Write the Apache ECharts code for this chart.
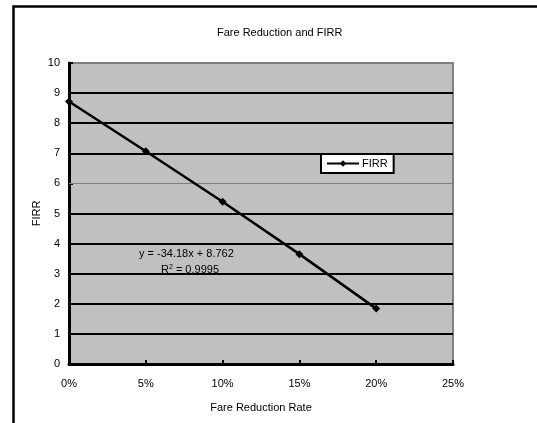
<!DOCTYPE html>
<html>
<head>
<meta charset="utf-8">
<script src="https://cdn.jsdelivr.net/npm/echarts@6/dist/echarts.min.js"></script>
<style>html,body{margin:0;padding:0;background:#fff;}#c{width:537px;height:423px;}</style>
</head>
<body>
<div id="c"></div>
<script>
const titleText = 'Fare Reduction and FIRR';
const xTitle = 'Fare Reduction Rate';
const yTitle = 'FIRR';
const seriesName = 'FIRR';
const rates = [0, 0.05, 0.10, 0.15, 0.20];
const firr = [8.72, 7.07, 5.39, 3.65, 1.84];
const trendEq = 'y = -34.18x + 8.762';
const r2Value = '0.9995';

const FONT = '"Liberation Sans", Arial, sans-serif';
const chart = echarts.init(document.getElementById('c'), null, {renderer: 'canvas'});
const gridColors = ['#000','#000','#000','#000','#000','#000','rgba(0,0,0,0)','#000','#000','#000','rgba(0,0,0,0)'];

chart.setOption({
  animation: false,
  backgroundColor: '#fff',
  textStyle: {fontFamily: FONT, color: '#000'},
  title: {
    text: titleText, left: 212, top: 22,
    textStyle: {fontFamily: FONT, fontSize: 11, fontWeight: 'normal', color: '#000'}
  },
  legend: {
    left: 321, top: 154,
    backgroundColor: '#fff', borderColor: '#000', borderWidth: 2,
    padding: [4, 6, 4, 5],
    itemWidth: 32, itemHeight: 8, itemGap: 4,
    textStyle: {fontFamily: FONT, fontSize: 11, color: '#000', padding: [0,0,0,-2]},
    data: [seriesName]
  },
  grid: {
    left: 69, right: 84, top: 63, bottom: 59,
    show: true, backgroundColor: '#c0c0c0', borderColor: '#808080', borderWidth: 2
  },
  xAxis: {
    type: 'value', min: 0, max: 0.25, interval: 0.05,
    name: xTitle, nameLocation: 'middle', nameGap: 38, nameMoveOverlap: false,
    nameTextStyle: {fontFamily: FONT, fontSize: 11, color: '#000'},
    axisLine: {show: true, lineStyle: {color: '#000', width: 3}},
    axisTick: {show: true, inside: true, length: 4, lineStyle: {color: '#000', width: 2}},
    axisLabel: {fontFamily: FONT, fontSize: 11, color: '#000', margin: 14,
      formatter: v => Math.round(v * 100) + '%'},
    splitLine: {show: false}
  },
  yAxis: {
    type: 'value', min: 0, max: 10, interval: 1,
    name: yTitle, nameLocation: 'middle', nameGap: 27, nameRotate: 90, nameMoveOverlap: false,
    nameTextStyle: {fontFamily: FONT, fontSize: 11, color: '#000'},
    axisLine: {show: true, lineStyle: {color: '#000', width: 3}},
    axisTick: {show: true, inside: true, length: 4, lineStyle: {color: '#000', width: 2}},
    axisLabel: {fontFamily: FONT, fontSize: 11, color: '#000', margin: 9},
    splitLine: {show: true, lineStyle: {color: gridColors, width: 2}}
  },
  series: [{
    name: seriesName, type: 'line',
    data: rates.map((r, i) => [r, firr[i]]),
    symbol: 'diamond', symbolSize: 8,
    lineStyle: {color: '#000', width: 2.5},
    itemStyle: {color: '#000'},
    markLine: {
      silent: true, symbol: 'none', label: {show: false},
      data: [
        {yAxis: 6, lineStyle: {color: '#808080', width: 1, type: 'solid'}}
      ]
    },
    z: 5
  }],
  graphic: [
    {type: 'rect', shape: {x: 13.5, y: 6.5, width: 600, height: 500},
      style: {fill: 'none', stroke: '#000', lineWidth: 2.5}, silent: true},
    {type: 'text', left: 139, top: 248, z: 10,
      style: {text: trendEq, font: '11px ' + FONT, fill: '#000'}},
    {type: 'text', left: 161, top: 264, z: 10,
      style: {text: '{r|R}{s|2}{r| = ' + r2Value + '}',
        rich: {r: {fontSize: 11, fontFamily: FONT, fill: '#000', verticalAlign: 'bottom'},
               s: {fontSize: 7, fontFamily: FONT, fill: '#000', verticalAlign: 'top'}}}}
  ]
});
</script>
</body>
</html>
